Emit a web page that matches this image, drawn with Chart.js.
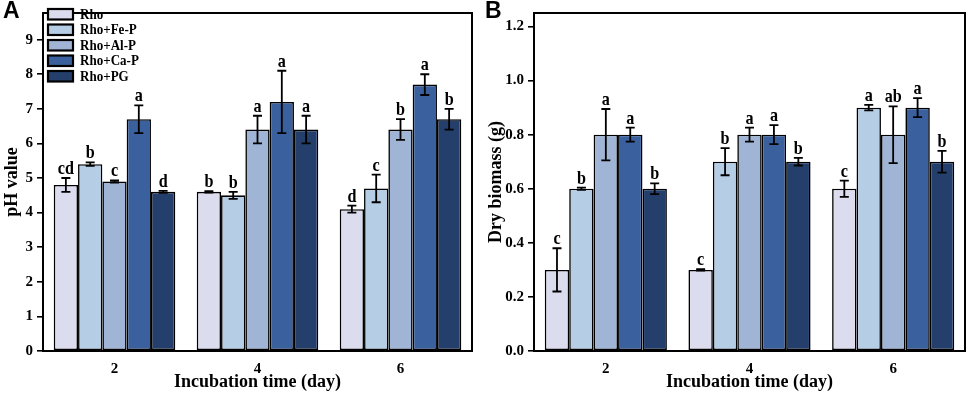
<!DOCTYPE html>
<html>
<head>
<meta charset="utf-8">
<script src="https://cdn.jsdelivr.net/npm/chart.js@4"></script>
<style>
html,body{margin:0;padding:0;background:#fff;}
#wrap{position:relative;width:969px;height:394px;overflow:hidden;}
.pane{position:absolute;top:0;height:394px;}
#pa{left:0;width:484px;}
#pb{left:484px;width:485px;}
.lab{position:absolute;top:-3px;font:bold 23px "Liberation Sans",Arial,sans-serif;color:#000;}
</style>
</head>
<body>
<div id="wrap">
  <div class="pane" id="pa"><canvas id="ca" width="484" height="394"></canvas></div>
  <div class="pane" id="pb"><canvas id="cb" width="485" height="394"></canvas></div>
  <div class="lab" style="left:3px;">A</div>
  <div class="lab" style="left:485px;">B</div>
</div>
<script>
// ---- data ----
const categories = ['2', '4', '6'];
const seriesNames = ['Rho', 'Rho+Fe-P', 'Rho+Al-P', 'Rho+Ca-P', 'Rho+PG'];
const seriesColors = ['#dcdcef', '#b6cde6', '#a0b4d6', '#3a619e', '#243f6b'];

// Panel A: pH value
const phRho   = [4.8, 4.6, 4.1];
const phFe    = [5.4, 4.5, 4.7];
const phAl    = [4.9, 6.4, 6.4];
const phCa    = [6.7, 7.2, 7.7];
const phPG    = [4.6, 6.4, 6.7];
const phErrRho = [0.2, 0.02, 0.1];
const phErrFe  = [0.05, 0.1, 0.4];
const phErrAl  = [0.03, 0.4, 0.3];
const phErrCa  = [0.4, 0.9, 0.3];
const phErrPG  = [0.03, 0.4, 0.3];
const phLetRho = ['cd', 'b', 'd'];
const phLetFe  = ['b', 'b', 'c'];
const phLetAl  = ['c', 'a', 'b'];
const phLetCa  = ['a', 'a', 'a'];
const phLetPG  = ['d', 'a', 'b'];

// Panel B: Dry biomass (g)
const bmRho   = [0.3, 0.3, 0.6];
const bmFe    = [0.6, 0.7, 0.9];
const bmAl    = [0.8, 0.8, 0.8];
const bmCa    = [0.8, 0.8, 0.9];
const bmPG    = [0.6, 0.7, 0.7];
const bmErrRho = [0.08, 0.003, 0.03];
const bmErrFe  = [0.004, 0.05, 0.01];
const bmErrAl  = [0.095, 0.026, 0.105];
const bmErrCa  = [0.026, 0.035, 0.035];
const bmErrPG  = [0.02, 0.014, 0.04];
const bmLetRho = ['c', 'c', 'c'];
const bmLetFe  = ['b', 'b', 'a'];
const bmLetAl  = ['a', 'a', 'ab'];
const bmLetCa  = ['a', 'a', 'a'];
const bmLetPG  = ['b', 'b', 'b'];

const phTicks = [0,1,2,3,4,5,6,7,8,9];
const bmTicks = [0.0,0.2,0.4,0.6,0.8,1.0,1.2];

const SERIF = '"Liberation Serif","Times New Roman",serif';

function makeDatasets(vals, errs, lets) {
  return vals.map((v, i) => ({
    label: seriesNames[i],
    data: v,
    errors: errs[i],
    letters: lets[i],
    backgroundColor: seriesColors[i],
    borderColor: '#000',
    borderWidth: 1.6,
    borderSkipped: false,
    categoryPercentage: 0.85,
    barPercentage: 1.0
  }));
}

function squashText(ctx, text, x, y, sx) {
  ctx.save();
  ctx.translate(x, y);
  ctx.scale(sx, 1);
  ctx.fillText(text, 0, 0);
  ctx.restore();
}

const decorPlugin = {
  id: 'decor',
  afterDatasetsDraw(chart) {
    const ctx = chart.ctx;
    const ys = chart.scales.y;
    ctx.save();
    chart.data.datasets.forEach((ds, di) => {
      const meta = chart.getDatasetMeta(di);
      meta.data.forEach((bar, i) => {
        const v = ds.data[i], e = ds.errors[i];
        const x = bar.x;
        const yt = ys.getPixelForValue(v + e);
        const yb = ys.getPixelForValue(v - e);
        ctx.strokeStyle = '#000';
        ctx.lineWidth = 1.8;
        ctx.beginPath();
        ctx.moveTo(x, yt); ctx.lineTo(x, yb);
        ctx.moveTo(x - 4.5, yt); ctx.lineTo(x + 4.5, yt);
        ctx.moveTo(x - 4.5, yb); ctx.lineTo(x + 4.5, yb);
        ctx.stroke();
        ctx.fillStyle = '#000';
        ctx.font = 'bold 19px ' + SERIF;
        ctx.textAlign = 'center';
        ctx.textBaseline = 'alphabetic';
        squashText(ctx, ds.letters[i], x, yt - 4, 0.85);
      });
    });
    // frame
    const a = chart.chartArea;
    ctx.strokeStyle = '#000';
    ctx.lineWidth = 2;
    ctx.strokeRect(a.left, a.top, a.right - a.left, a.bottom - a.top);
    // legend
    const lx = chart.options.plugins.decor.legendX;
    chart.data.datasets.forEach((ds, di) => {
      const y = 9 + di * 15.5;
      ctx.fillStyle = ds.backgroundColor;
      ctx.fillRect(lx, y, 25, 10.5);
      ctx.lineWidth = 2.2;
      ctx.strokeStyle = '#000';
      ctx.strokeRect(lx, y, 25, 10.5);
      ctx.fillStyle = '#000';
      ctx.font = 'bold 14.5px ' + SERIF;
      ctx.textAlign = 'left';
      ctx.textBaseline = 'middle';
      squashText(ctx, ds.label, lx + 32, y + 6, 0.9);
    });
    ctx.restore();
  }
};

function makeChart(id, datasets, opts) {
  return new Chart(document.getElementById(id), {
    type: 'bar',
    data: { labels: categories, datasets: datasets },
    plugins: [decorPlugin],
    options: {
      responsive: false,
      animation: false,
      layout: { padding: { left: 0, right: opts.padRight, top: 4, bottom: 0 } },
      plugins: {
        legend: { display: false },
        tooltip: { enabled: false },
        decor: { legendX: opts.legendX }
      },
      scales: {
        x: {
          afterFit(s) { s.height = 43; },
          grid: { display: false },
          border: { display: false },
          ticks: { color: '#000', font: { family: SERIF, weight: 'bold', size: 15 }, padding: 1 },
          title: { display: true, text: 'Incubation time (day)', color: '#000',
                   font: { family: SERIF, weight: 'bold', size: 18 }, padding: { top: 0, bottom: 1 } }
        },
        y: {
          min: 0, max: opts.max,
          afterFit(s) { s.width = opts.yWidth; },
          afterBuildTicks(s) { s.ticks = opts.ticks.map(v => ({ value: v })); },
          grid: { drawOnChartArea: false, drawTicks: true, tickLength: 6, color: '#000', lineWidth: 1.6 },
          border: { display: false },
          ticks: { color: '#000', font: { family: SERIF, weight: 'bold', size: 15 }, padding: 4,
                   callback: opts.fmt },
          title: { display: true, text: opts.ytitle, color: '#000',
                   font: { family: SERIF, weight: 'bold', size: 18 }, padding: { top: 2, bottom: 0 } }
        }
      }
    }
  });
}

makeChart('ca',
  makeDatasets([phRho, phFe, phAl, phCa, phPG],
               [phErrRho, phErrFe, phErrAl, phErrCa, phErrPG],
               [phLetRho, phLetFe, phLetAl, phLetCa, phLetPG]),
  { max: 9.77, yWidth: 43, padRight: 12, legendX: 48, ticks: phTicks,
    ytitle: 'pH value', fmt: v => String(v) });

makeChart('cb',
  makeDatasets([bmRho, bmFe, bmAl, bmCa, bmPG],
               [bmErrRho, bmErrFe, bmErrAl, bmErrCa, bmErrPG],
               [bmLetRho, bmLetFe, bmLetAl, bmLetCa, bmLetPG]),
  { max: 1.25, yWidth: 50, padRight: 4, legendX: 537, ticks: bmTicks,
    ytitle: 'Dry biomass (g)', fmt: v => Number(v).toFixed(1) });
</script>
</body>
</html>
